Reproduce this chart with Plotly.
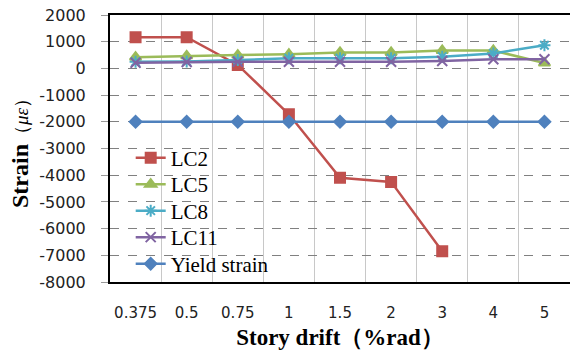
import plotly.graph_objects as go

drift = ["0.375", "0.5", "0.75", "1", "1.5", "2", "3", "4", "5"]
lc2 = [1170, 1170, 130, -1720, -4100, -4250, -6850, None, None]
lc5 = [420, 470, 500, 530, 600, 600, 670, 670, 200]
lc8 = [250, 260, 310, 380, 380, 380, 440, 560, 870]
lc11 = [210, 240, 250, 250, 250, 250, 280, 340, 340]
yield_strain = [-2000] * 9

y_ticks = [2000, 1000, 0, -1000, -2000, -3000, -4000, -5000, -6000, -7000, -8000]
y_ticktext = ["2000", "1000", "0", "-1000", "-2000", "-3000", "-4000",
              "-5000", "-6000", "-7000", "-8000"]

series = [
    ("LC2", lc2, "#C0504D", "square", 10),
    ("LC5", lc5, "#9BBB59", "triangle-up", 10),
    ("LC8", lc8, "#4BACC6", "asterisk-open", 10),
    ("LC11", lc11, "#8064A2", "x-thin-open", 10),
    ("Yield strain", yield_strain, "#4F81BD", "diamond", 9),
]

SERIF = "Liberation Serif"

plot_top, plot_bot = 15, 282
legend_rows_px = [158, 184.5, 211, 237.5, 264]

fig = go.Figure()
layout_legends = {}
for i, (name, vals, color, sym, size) in enumerate(series):
    key = "legend" if i == 0 else f"legend{i+1}"
    fig.add_trace(go.Scatter(
        x=drift, y=vals,
        name=f"<span style='font-family:{SERIF}'>{name}</span>",
        mode="lines+markers",
        line=dict(color=color, width=2.5),
        marker=dict(symbol=sym, size=size, color=color,
                    line=dict(color=color, width=2)),
        connectgaps=False,
        legend=key,
    ))
    ypos = (plot_bot - legend_rows_px[i]) / (plot_bot - plot_top)
    layout_legends[key] = dict(
        x=0.045, y=ypos, xanchor="left", yanchor="middle",
        bgcolor="rgba(0,0,0,0)", borderwidth=0,
        font=dict(family=SERIF, size=21, color="black"),
        itemwidth=30,
    )

fig.update_layout(
    width=570, height=358,
    margin=dict(l=110, r=0, t=plot_top, b=358 - plot_bot),
    paper_bgcolor="white", plot_bgcolor="white",
    font=dict(family=SERIF, size=21, color="black"),
    showlegend=True,
    **layout_legends,
    xaxis=dict(
        type="category", categoryorder="array", categoryarray=drift,
        tickson="boundaries", showgrid=True, gridcolor="#c8c8c8", gridwidth=1,
        showline=True, linecolor="black", linewidth=2, mirror=True,
        ticks="", ticklabelstandoff=16,
        tickfont=dict(family="DejaVu Sans", size=15, color="#222"),
        title=dict(text="<b>Story drift（%rad）</b>",
                   font=dict(family=SERIF, size=23, color="black"),
                   standoff=8),
        range=[-0.5, 8.5],
    ),
    yaxis=dict(
        range=[-8000, 2000], tickvals=y_ticks, ticktext=y_ticktext,
        showgrid=True, gridcolor="#808080", gridwidth=1, griddash="dash",
        zeroline=False,
        showline=True, linecolor="black", linewidth=2,
        ticks="outside", ticklen=7, tickcolor="#999",
        ticklabelstandoff=12,
        tickfont=dict(family="DejaVu Sans", size=16, color="#222"),
        title=dict(text=f"<b>Strain</b><span style='font-size:19px;font-family:{SERIF}'>（<i>με</i>）</span>",
                   font=dict(family=SERIF, size=24, color="black"),
                   standoff=4),
    ),
)

fig.write_html("out.html")
